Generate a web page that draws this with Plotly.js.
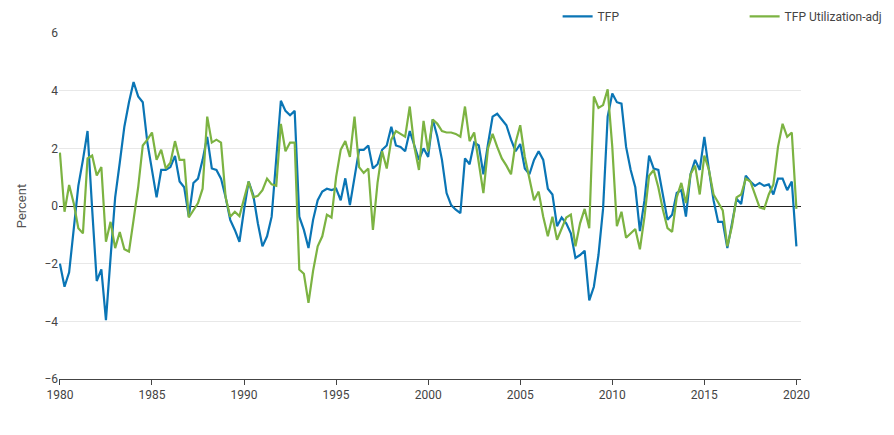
<!DOCTYPE html>
<html><head><meta charset="utf-8">
<script src="https://cdn.plot.ly/plotly-3.0.1.min.js"></script>
<style>body{margin:0;background:#fff}#c{width:894px;height:435px}</style>
</head><body><div id="c"></div>
<script>
const startYear = 1980;
const tfp = [-2.0,-2.8,-2.3,-0.7,0.7,1.6,2.6,-0.1,-2.6,-2.2,-3.96,-1.8,0.3,1.5,2.75,3.6,4.3,3.8,3.6,2.2,1.25,0.3,1.25,1.25,1.35,1.74,0.85,0.65,-0.37,0.8,0.95,1.6,2.4,1.3,1.25,0.95,0.3,-0.48,-0.83,-1.24,-0.13,0.85,0.38,-0.6,-1.4,-1.05,-0.37,1.5,3.65,3.3,3.15,3.3,-0.37,-0.83,-1.46,-0.48,0.2,0.5,0.6,0.55,0.6,0.2,0.96,0.03,1.0,1.95,1.95,2.1,1.3,1.45,1.95,2.1,2.75,2.1,2.05,1.9,2.6,2.1,1.6,2.0,1.7,3.0,2.4,1.6,0.45,0.03,-0.13,-0.25,1.65,1.45,2.2,2.1,1.1,2.15,3.1,3.2,3.0,2.8,2.3,1.9,2.15,1.3,1.1,1.6,1.9,1.6,0.6,0.4,-0.7,-0.4,-0.6,-0.95,-1.8,-1.7,-1.55,-3.27,-2.8,-1.7,-0.1,3.1,3.9,3.6,3.55,2.05,1.25,0.65,-0.87,0.2,1.75,1.3,1.25,0.4,-0.48,-0.3,0.45,0.55,-0.37,1.1,1.6,1.25,2.4,1.25,0.2,-0.55,-0.55,-1.46,-0.6,0.25,0.07,1.05,0.85,0.7,0.8,0.7,0.75,0.4,0.95,0.95,0.55,0.85,-1.4];
const tfpAdj = [1.85,-0.2,0.73,0.1,-0.77,-0.95,1.65,1.75,1.06,1.35,-1.24,-0.55,-1.46,-0.9,-1.5,-1.58,-0.48,0.65,2.1,2.3,2.55,1.6,1.95,1.3,1.5,2.25,1.6,1.6,-0.4,-0.13,0.1,0.6,3.1,2.2,2.3,2.2,0.3,-0.37,-0.2,-0.35,0.3,0.85,0.3,0.35,0.55,0.95,0.75,0.7,2.85,1.9,2.2,2.2,-2.2,-2.35,-3.36,-2.25,-1.4,-1.05,-0.3,-0.4,1.0,1.95,2.25,1.7,3.1,1.35,1.15,1.3,-0.83,0.8,1.9,1.3,2.3,2.6,2.5,2.4,3.45,2.05,1.25,2.95,1.9,3.0,2.85,2.6,2.55,2.55,2.5,2.4,3.45,2.25,2.55,1.5,0.45,2.0,2.5,2.05,1.65,1.4,1.1,2.2,2.8,1.7,1.0,0.2,0.5,-0.37,-1.05,-0.37,-1.17,-0.77,-0.4,-0.3,-1.4,-0.6,-0.1,-0.77,3.8,3.4,3.5,4.05,2.05,-0.7,-0.2,-1.1,-0.95,-0.8,-1.5,-0.37,1.05,1.25,0.65,-0.13,-0.77,-0.9,0.3,0.8,0.1,1.1,1.4,0.4,1.75,1.25,0.4,0.1,-0.15,-1.4,-0.7,0.3,0.4,0.95,0.85,0.4,-0.05,-0.1,0.4,0.75,2.05,2.85,2.4,2.55,-0.1];
const xTicks = [1980,1985,1990,1995,2000,2005,2010,2015,2020];
const yTicks = [-6,-4,-2,0,2,4,6];
const x = tfp.map((_, i) => startYear + i / 4);

Plotly.newPlot('c', [
  {x: x, y: tfp, name: 'TFP', type: 'scatter', mode: 'lines', line: {color: '#0a75b5', width: 2.2}},
  {x: x, y: tfpAdj, name: 'TFP Utilization-adj', type: 'scatter', mode: 'lines', line: {color: '#7cb342', width: 2.2}}
], {
  width: 894, height: 435,
  margin: {l: 59, r: 93, t: 33, b: 56, autoexpand: false},
  font: {family: 'Roboto, sans-serif', size: 12, color: '#444'},
  showlegend: true,
  legend: {orientation: 'h', x: 0.672, xanchor: 'left', y: 1.09, yanchor: 'top', font: {size: 12, color: '#444'}, entrywidth: 142, entrywidthmode: 'pixels', tracegroupgap: 0},
  xaxis: {range: [1979.95, 2020.25], tickvals: xTicks, ticktext: xTicks.map(String), showgrid: false, zeroline: false, showline: true, linecolor: '#444', ticks: 'outside', ticklen: 5, tickcolor: '#444', automargin: false},
  yaxis: {range: [-6, 6], automargin: false, tickvals: yTicks, ticktext: yTicks.map(v => v < 0 ? '\u2212' + Math.abs(v) : String(v)), gridcolor: '#e8e8e8', zeroline: true, zerolinecolor: '#222', zerolinewidth: 1, title: {text: 'Percent', font: {size: 13, color: '#555'}, standoff: 14}}
}, {displayModeBar: false});
</script></body></html>
